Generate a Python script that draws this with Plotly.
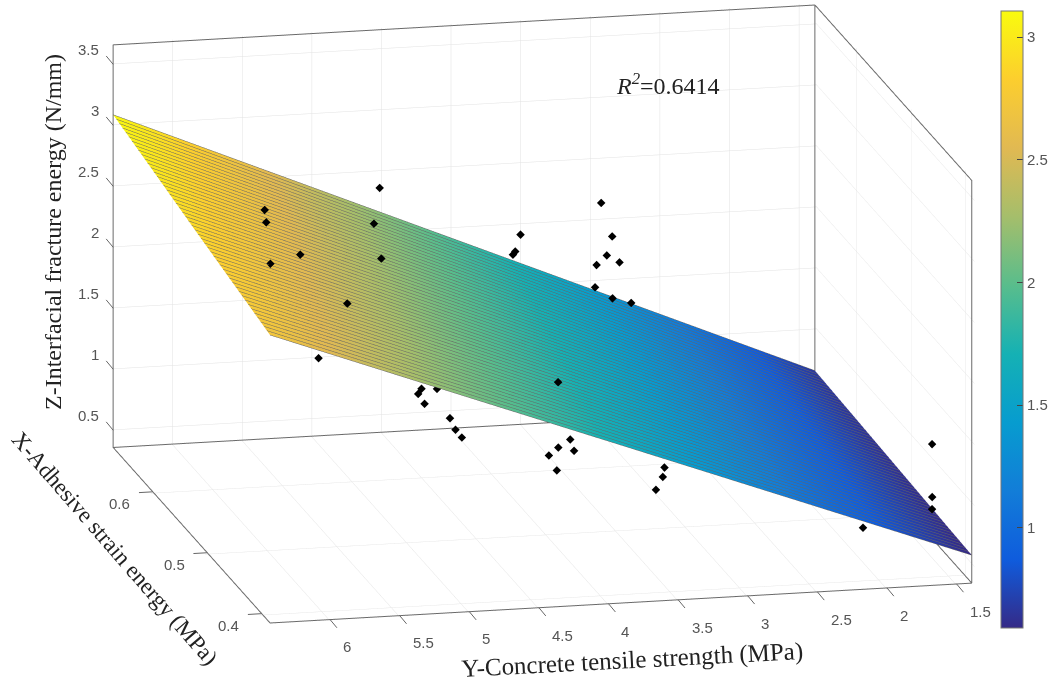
import plotly.graph_objects as go

# Surface
x_grid = [0.385, 0.457, 0.529, 0.601, 0.673]
y_grid = [1.39, 2.65, 3.91, 5.17, 6.43]
z_grid = [
    [0.589, 0.607, 0.626, 0.645, 0.663],
    [1.122, 1.158, 1.195, 1.232, 1.269],
    [1.655, 1.708, 1.763, 1.820, 1.875],
    [2.187, 2.259, 2.330, 2.407, 2.481],
    [2.720, 2.810, 2.900, 2.995, 3.087],
]

# Measured points
pts_x = [0.5, 0.5, 0.5, 0.5, 0.5, 0.5, 0.5, 0.414, 0.5, 0.5,
         0.5, 0.5, 0.5, 0.5, 0.5, 0.5, 0.414, 0.5, 0.5, 0.5,
         0.5, 0.5, 0.5, 0.5, 0.5, 0.443, 0.414, 0.414, 0.414, 0.5,
         0.5, 0.5, 0.5, 0.5, 0.5, 0.5, 0.5, 0.5, 0.5, 0.5]
pts_y = [6.02, 6.008, 5.194, 5.235, 5.764, 5.979, 5.182, 5.762, 5.632, 4.893,
         4.917, 4.782, 4.871, 4.689, 4.649, 4.603, 4.248, 3.825, 3.91, 3.797,
         3.978, 3.921, 3.148, 3.16, 3.21, 1.945, 1.562, 1.562, 1.562, 4.182,
         4.22, 4.237, 3.603, 3.524, 3.562, 3.636, 3.471, 3.646, 3.521, 3.387]
pts_z = [3.145, 3.043, 3.272, 2.982, 2.762, 2.702, 2.692, 2.791, 1.905, 1.606,
         1.566, 1.598, 1.481, 1.352, 1.254, 1.188, 2.048, 1.121, 1.061, 1.027,
         1.000, 0.874, 0.848, 0.772, 0.669, 0.561, 1.366, 0.932, 0.833, 2.824,
         2.687, 2.663, 3.046, 2.766, 2.613, 2.539, 2.55, 2.357, 2.258, 2.213]

box_x = [0.385, 0.673]
box_y = [1.39, 6.43]
box_z = [0.36, 3.66]
x_ticks = [0.4, 0.5, 0.6]
x_labels = ["0.4", "0.5", "0.6"]
y_ticks = [1.5, 2, 2.5, 3, 3.5, 4, 4.5, 5, 5.5, 6]
y_labels = ["1.5", "2", "2.5", "3", "3.5", "4", "4.5", "5", "5.5", "6"]
z_ticks = [0.5, 1, 1.5, 2, 2.5, 3, 3.5]
z_labels = ["0.5", "1", "1.5", "2", "2.5", "3", "3.5"]
cbar_ticks = [1, 1.5, 2, 2.5, 3]
cbar_labels = ["1", "1.5", "2", "2.5", "3"]
c_min, c_max = 0.592, 3.106

parula = [
    [0.0, "rgb(53,42,135)"], [0.111, "rgb(15,92,221)"], [0.222, "rgb(18,125,216)"],
    [0.333, "rgb(7,156,207)"], [0.444, "rgb(21,177,180)"], [0.556, "rgb(89,189,140)"],
    [0.667, "rgb(165,190,107)"], [0.778, "rgb(225,185,82)"], [0.889, "rgb(252,206,46)"],
    [1.0, "rgb(249,251,14)"],
]

x0, x1 = box_x
y0, y1 = box_y
z0, z1 = box_z
# axis ranges a hair wider than the box so the box lines are not clipped
pad = 0.003
x_range = [x0 - pad * (x1 - x0), x1 + pad * (x1 - x0)]
y_range = [y0 - pad * (y1 - y0), y1 + pad * (y1 - y0)]
z_range = [z0 - pad * (z1 - z0), z1 + pad * (z1 - z0)]

edge_x = [x1, x0, x0, x1, x1, x1, x1, None, x0, x0, x1]
edge_y = [y1, y1, y0, y0, y1, y1, y0, None, y0, y0, y0]
edge_z = [z0, z0, z0, z0, z0, z1, z1, None, z0, z0, z0]
edge_x += [None, x1, x1, None, x1, x0, x0]
edge_y += [None, y0, y0, None, y0, y0, y0]
edge_z += [None, z0, z1, None, z1, z1, z0]

# The figure is a little wider than the window so the colorbar keeps its place
W, H = 1060, 684

fig = go.Figure()
fig.add_trace(go.Surface(
    x=x_grid, y=y_grid, z=z_grid, colorscale=parula, cmin=c_min, cmax=c_max,
    lighting=dict(ambient=1, diffuse=0, specular=0, roughness=1, fresnel=0),
    hoverinfo="skip",
    contours=dict(
        x=dict(show=True, start=x0, end=x1, size=(x1 - x0) / 50, color="rgb(100,100,100)", width=1),
    ),
    colorbar=dict(
        x=1001 / W, xanchor="left", xpad=0, y=(H - 11) / H, yanchor="top", ypad=0,
        len=617, lenmode="pixels", thickness=22, thicknessmode="pixels",
        outlinecolor="#777", outlinewidth=1, ticks="inside", ticklen=6, tickcolor="#444",
        tickvals=cbar_ticks, ticktext=cbar_labels, tickprefix="\u00a0",
        tickfont=dict(family="Liberation Sans", size=15, color="#555"),
    ),
))
fig.add_trace(go.Scatter3d(
    x=edge_x, y=edge_y, z=edge_z, mode="lines",
    line=dict(color="#6a6a6a", width=2), hoverinfo="skip", showlegend=False,
))
fig.add_trace(go.Scatter3d(
    x=pts_x, y=pts_y, z=pts_z, mode="markers",
    marker=dict(symbol="diamond", size=2.8, color="black"), showlegend=False,
))

def axis(rng, vals):
    return dict(
        range=rng, autorange=False, tickmode="array", tickvals=vals,
        showbackground=False, showgrid=True, gridcolor="#e2e2e2", gridwidth=1,
        zeroline=False, showline=False, showspikes=False, ticks="", showticklabels=False,
        title=dict(text=""),
    )

TICK_FONT = dict(family="Liberation Sans", size=15, color="#555")
scene_notes = []
def tick(px, py, pz, label, ax, ay, xshift, yshift):
    scene_notes.append(dict(x=px, y=py, z=pz, text=" ", showarrow=True, arrowhead=0, arrowwidth=1,
                            arrowcolor="#666", ax=ax, ay=ay, standoff=0, startstandoff=0))
    scene_notes.append(dict(x=px, y=py, z=pz, text=label, showarrow=False, xanchor="center",
                            yanchor="middle", xshift=xshift, yshift=yshift, font=TICK_FONT))
for v, t in zip(z_ticks, z_labels):
    tick(x1, y1, v, t, -10, -12, -25 if "." in t else -18, 15)
for v, t in zip(x_ticks, x_labels):
    tick(v, y1, z0, t, -17, 1, -33, -12)
for v, t in zip(y_ticks, y_labels):
    tick(x0, v, z0, t, 10, 12, 24 if "." in t else 17, -27.5)

def ann(text, px, py, angle=0, size=20):
    return dict(text=text, x=px / W, y=1 - py / H, xref="paper", yref="paper", showarrow=False,
                textangle=angle, xanchor="center", yanchor="middle",
                font=dict(family="Liberation Serif", size=size, color="#222"))

r = 4
scale = 2.301
fig.update_layout(
    width=W, height=H, margin=dict(l=0, r=0, t=0, b=0), paper_bgcolor="white",
    showlegend=False,
    scene=dict(
        domain=dict(x=[34 / W, 1051 / W], y=[0.0851, 0.9971]),
        aspectmode="manual", aspectratio=dict(x=1 * scale, y=1.008 * scale, z=0.583 * scale),
        xaxis=axis(x_range, x_ticks),
        yaxis=axis(y_range, y_ticks),
        zaxis=axis(z_range, z_ticks),
        camera=dict(
            projection=dict(type="orthographic"),
            eye=dict(x=-0.944 * r, y=0.2127 * r, z=0.2521 * r),
            up=dict(x=0, y=0, z=1), center=dict(x=0, y=0, z=0),
        ),
        annotations=scene_notes,
    ),
    annotations=[
        ann("<i>R</i><sup><i>2</i></sup>=0.6414", 668, 84, size=24),
        ann("Z-Interfacial fracture energy (N/mm)", 53, 232, -90, size=24),
        ann("X-Adhesive strain energy (MPa)", 115, 548, 49, size=23),
        ann("Y-Concrete tensile strength (MPa)", 632, 660, -3, size=25),
    ],
)
fig.write_html("out.html", config={"displayModeBar": False},
               post_script="document.body.style.margin='0';document.body.style.overflow='hidden';")
